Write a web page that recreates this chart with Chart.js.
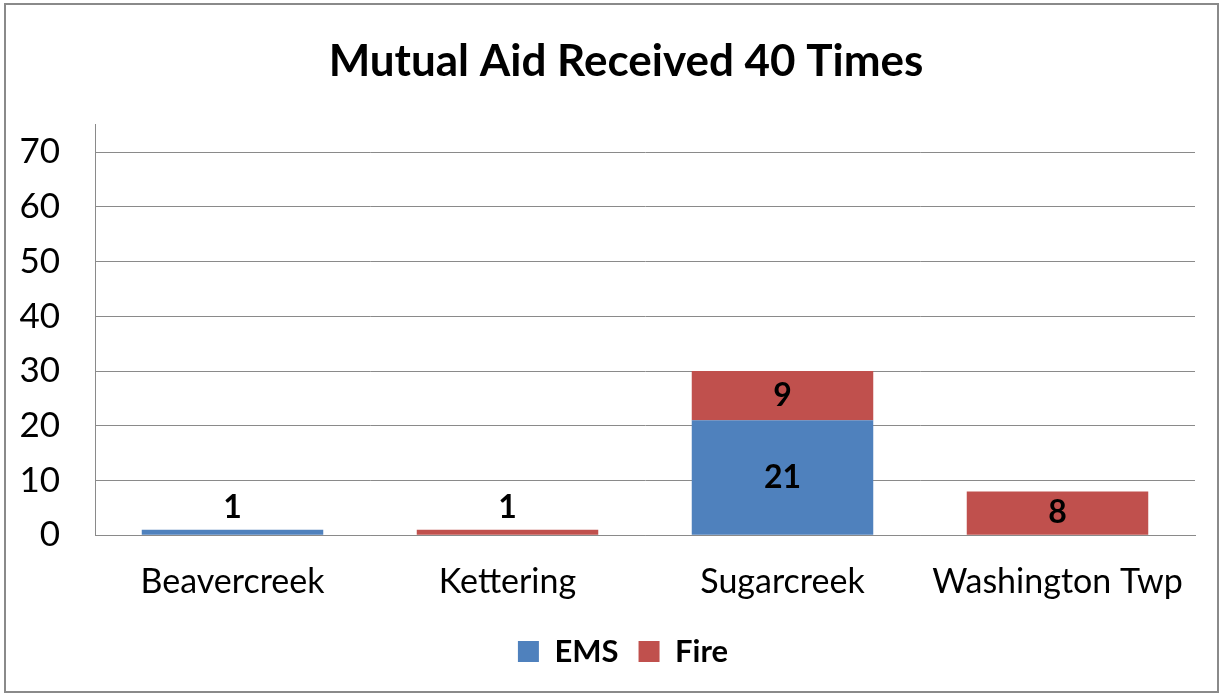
<!DOCTYPE html>
<html>
<head>
<meta charset="utf-8">
<script src="https://cdn.jsdelivr.net/npm/chart.js@4"></script>
<style>
html, body { margin: 0; padding: 0; background: #fff; }
#wrap { width: 1221px; height: 696px; }
</style>
</head>
<body>
<div id="wrap"><canvas id="chart" width="1221" height="696"></canvas></div>
<script>
const categories = ['Beavercreek', 'Kettering', 'Sugarcreek', 'Washington Twp'];
const emsValues = [1, 0, 21, 0];
const fireValues = [0, 1, 9, 8];
const yTicks = [0, 10, 20, 30, 40, 50, 60, 70];
const yMax = 75;

const FONT = 'Lato, "Open Sans", sans-serif';
const GRID = '#8a8a8a';

// frame round the whole chart, like the office chart box
const framePlugin = {
    id: 'frame',
    beforeDraw(chart) {
        const { ctx } = chart;
        ctx.save();
        ctx.fillStyle = '#fff';
        ctx.fillRect(0, 0, chart.width, chart.height);
        ctx.strokeStyle = GRID;
        ctx.lineWidth = 2;
        ctx.strokeRect(5, 4, 1213, 688);
        ctx.restore();
    }
};

// title and legend sit centred on the frame, not on the layout box
const centreShift = {
    id: 'centreShift',
    afterLayout(chart) {
        if (chart.titleBlock) chart.titleBlock.left += 57;
        if (chart.legend) chart.legend.left += 51;
    }
};

// value labels in the bars
const valueLabels = {
    id: 'valueLabels',
    afterDatasetsDraw(chart) {
        const { ctx } = chart;
        ctx.save();
        ctx.font = 'bold 32px ' + FONT;
        ctx.fillStyle = '#000';
        ctx.textAlign = 'center';
        ctx.textBaseline = 'middle';
        chart.data.datasets.forEach((ds, i) => {
            const meta = chart.getDatasetMeta(i);
            meta.data.forEach((bar, j) => {
                const v = ds.data[j];
                if (!v) return;
                const h = bar.base - bar.y;
                let y = (bar.y + bar.base) / 2;
                if (h < 30) y = bar.y - 22;
                ctx.fillText(String(v), bar.x, y);
            });
        });
        ctx.restore();
    }
};

new Chart(document.getElementById('chart'), {
    type: 'bar',
    data: {
        labels: categories,
        datasets: [
            { label: 'EMS', data: emsValues, backgroundColor: '#4F81BD', borderWidth: 0 },
            { label: 'Fire', data: fireValues, backgroundColor: '#C0504D', borderWidth: 0 }
        ]
    },
    options: {
        responsive: false,
        animation: false,
        layout: { padding: { left: 0, right: 26, top: 0, bottom: 19 } },
        datasets: { bar: { categoryPercentage: 0.66, barPercentage: 1 } },
        scales: {
            x: {
                stacked: true,
                afterFit(scale) { scale.height -= 12; },
                grid: { display: false, drawTicks: false },
                border: { display: true, color: GRID },
                ticks: { color: '#000', font: { family: FONT, size: 34 }, padding: 26, maxRotation: 0 }
            },
            y: {
                stacked: true,
                min: 0,
                max: yMax,
                afterFit(scale) { scale.width = 95; },
                afterBuildTicks(scale) { scale.ticks = yTicks.map(v => ({ value: v })); },
                grid: { drawTicks: false, color: GRID },
                border: { display: true, color: GRID },
                ticks: {
                    padding: 35,
                    color: '#000',
                    font: { family: FONT, size: 35 }
                }
            }
        },
        plugins: {
            title: {
                display: true,
                text: 'Mutual Aid Received 40 Times',
                color: '#000',
                font: { family: FONT, size: 44, weight: 'bold' },
                padding: { top: 35, bottom: 37 }
            },
            legend: {
                position: 'bottom',
                labels: {
                    color: '#000',
                    boxWidth: 21,
                    boxHeight: 21,
                    padding: 20,
                    font: { family: FONT, size: 31, weight: 'bold' }
                }
            },
            tooltip: { enabled: false }
        }
    },
    plugins: [framePlugin, centreShift, valueLabels]
});
</script>
</body>
</html>
